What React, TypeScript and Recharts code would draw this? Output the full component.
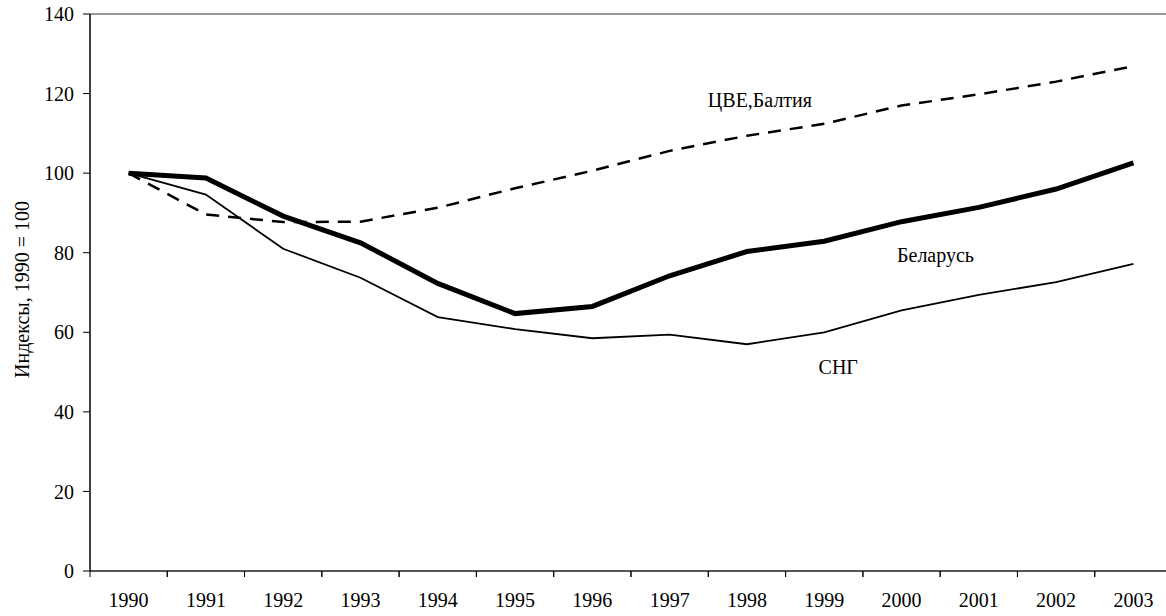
import { LineChart, Line, XAxis, YAxis, ReferenceLine, ReferenceDot } from 'recharts'

const years = ['1990', '1991', '1992', '1993', '1994', '1995', '1996', '1997', '1998', '1999', '2000', '2001', '2002', '2003']
const belarus = [100, 98.8, 89.2, 82.5, 72.3, 64.7, 66.5, 74.2, 80.3, 82.9, 87.8, 91.4, 96.0, 102.6]
const cis = [100, 94.6, 81.0, 73.7, 63.8, 60.8, 58.5, 59.4, 57.0, 60.0, 65.5, 69.4, 72.6, 77.2]
const ceeBaltic = [100, 89.6, 87.7, 87.8, 91.3, 96.2, 100.6, 105.6, 109.4, 112.4, 117.0, 119.8, 123.0, 126.9]
const yTicks = [0, 20, 40, 60, 80, 100, 120, 140]

const data = years.map((year, i) => ({
  year,
  belarus: belarus[i],
  cis: cis[i],
  cee: ceeBaltic[i],
}))

const FONT = '"Liberation Serif", "Times New Roman", serif'
const SLOT_HALF = 38.6

// labels sit in the middle of each year slot, tick marks go on the slot edges
function YearTick(props: any) {
  const { x, y, payload } = props
  return (
    <g>
      <line x1={x - SLOT_HALF} y1={y} x2={x - SLOT_HALF} y2={y + 6} stroke="#000" strokeWidth={1} />
      <line x1={x + SLOT_HALF} y1={y} x2={x + SLOT_HALF} y2={y + 6} stroke="#000" strokeWidth={1} />
      <text x={x} y={y + 36} textAnchor="middle" fill="#000" style={{ fontFamily: FONT, fontSize: 20 }}>
        {payload.value}
      </text>
    </g>
  )
}

function YTitle(props: any) {
  const vb = props.viewBox || { x: 0, y: 14, width: 90, height: 557 }
  const cx = 22
  const cy = vb.y + vb.height / 2 - 3
  return (
    <text
      x={cx}
      y={cy}
      transform={`rotate(-90 ${cx} ${cy})`}
      textAnchor="middle"
      dominantBaseline="central"
      fill="#000"
      style={{ fontFamily: FONT, fontSize: 20 }}
    >
      Индексы, 1990 = 100
    </text>
  )
}

const labelStyle = { fontSize: 20, fill: '#000', fontFamily: FONT, style: { fontFamily: FONT } }

export default function App() {
  return (
    <div style={{ position: 'absolute', left: 0, top: 0, width: 1166, height: 616, overflow: 'hidden', background: '#fff', fontFamily: FONT }}>
      <LineChart width={1180} height={616} data={data} margin={{ top: 14, right: 8, left: 0, bottom: 0 }} style={{ fontFamily: FONT }}>
        <XAxis
          dataKey="year"
          height={45}
          interval={0}
          padding={{ left: SLOT_HALF, right: SLOT_HALF }}
          tick={<YearTick />}
          tickLine={false}
          tickSize={0}
          tickMargin={0}
          axisLine={{ stroke: '#555', strokeWidth: 2 }}
        />
        <YAxis
          width={90}
          domain={[0, 140]}
          ticks={yTicks}
          interval={0}
          tick={{ fontSize: 20, fill: '#000', fontFamily: FONT, style: { fontFamily: FONT } }}
          tickLine={{ stroke: '#000' }}
          tickSize={7}
          tickMargin={9}
          axisLine={{ stroke: '#000', strokeWidth: 1.5 }}
          label={{ content: <YTitle /> }}
        />
        <ReferenceLine y={140} stroke="#999" strokeWidth={2} />
        <Line dataKey="cee" stroke="#000" strokeWidth={2.5} strokeDasharray="13 9" dot={false} isAnimationActive={false} />
        <Line dataKey="cis" stroke="#000" strokeWidth={1.8} dot={false} isAnimationActive={false} />
        <Line dataKey="belarus" stroke="#000" strokeWidth={5} dot={false} isAnimationActive={false} />
        <ReferenceDot
          x="1998"
          y={118.4}
          r={0}
          fill="none"
          stroke="none"
          label={{ value: 'ЦВЕ,Балтия', position: 'center', dx: 13, ...labelStyle }}
        />
        <ReferenceDot
          x="2000"
          y={79.4}
          r={0}
          fill="none"
          stroke="none"
          label={{ value: 'Беларусь', position: 'center', dx: 34, ...labelStyle }}
        />
        <ReferenceDot
          x="1999"
          y={51.4}
          r={0}
          fill="none"
          stroke="none"
          label={{ value: 'СНГ', position: 'center', dx: 14, ...labelStyle }}
        />
      </LineChart>
    </div>
  )
}
